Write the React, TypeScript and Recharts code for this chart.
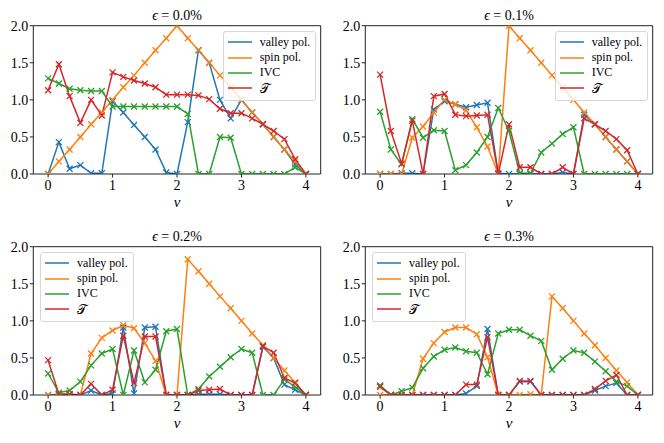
import React from "react";
import { LineChart, Line, XAxis, YAxis, Legend, ReferenceLine } from "recharts";

// filling nu = 0 .. 4 in steps of 1/6
const NU = [
  0, 1 / 6, 2 / 6, 3 / 6, 4 / 6, 5 / 6, 1, 7 / 6, 8 / 6, 9 / 6, 10 / 6, 11 / 6, 2,
  13 / 6, 14 / 6, 15 / 6, 16 / 6, 17 / 6, 3, 19 / 6, 20 / 6, 21 / 6, 22 / 6, 23 / 6, 4,
];

const X_TICKS = [0, 1, 2, 3, 4];
const Y_TICKS = [0, 0.5, 1, 1.5, 2];
const STRAINS = ["0.0", "0.1", "0.2", "0.3"];

// eps = 0.0%
const valley0 = [0, 0.43, 0.07, 0.12, 0.01, 0.01, 0.98, 0.83, 0.66, 0.5, 0.33, 0.02, 0, 0.7, 1.67, 1.5, 1.0, 0.75, 1.0, 0.83, 0.67, 0.5, 0.33, 0.13, 0];
const spin0 = [0, 0.17, 0.33, 0.5, 0.67, 0.83, 1.0, 1.17, 1.33, 1.5, 1.67, 1.83, 2.0, 1.83, 1.67, 1.5, 1.33, 1.17, 1.0, 0.83, 0.67, 0.5, 0.33, 0.17, 0];
const ivc0 = [1.29, 1.22, 1.15, 1.13, 1.12, 1.12, 0.91, 0.91, 0.91, 0.91, 0.91, 0.91, 0.91, 0.81, 0, 0, 0.5, 0.49, 0, 0, 0, 0, 0, 0.09, 0];
const tau0 = [1.13, 1.48, 1.05, 0.69, 1.0, 0.79, 1.37, 1.31, 1.26, 1.22, 1.17, 1.07, 1.07, 1.07, 1.06, 1.01, 0.88, 0.82, 0.82, 0.75, 0.67, 0.58, 0.47, 0.2, 0];

// eps = 0.1%
const valley1 = [0, 0, 0.01, 0.01, 0, 0.87, 0.98, 0.94, 0.9, 0.93, 0.96, 0.01, 0, 0, 0, 0, 0, 0.02, 0, 0.8, 0.67, 0.5, 0.33, 0.17, 0];
const spin1 = [0, 0, 0, 0.49, 0.64, 0.83, 1.0, 0.94, 0.86, 0.63, 0.37, 0, 2.0, 1.83, 1.67, 1.5, 1.33, 1.17, 1.0, 0.83, 0.67, 0.5, 0.33, 0.17, 0];
const ivc1 = [0.84, 0.33, 0.13, 0.74, 0.49, 0.59, 0.58, 0.05, 0.12, 0.29, 0.5, 0.89, 0.58, 0.01, 0.01, 0.29, 0.41, 0.54, 0.63, 0, 0, 0, 0, 0, 0];
const tau1 = [1.34, 0.58, 0.14, 0.72, 0, 1.05, 1.08, 0.8, 0.78, 0.79, 0.8, 0, 0.67, 0.09, 0.09, 0, 0, 0.09, 0, 0.75, 0.67, 0.58, 0.47, 0.32, 0];

// eps = 0.2%
const valley2 = [0, 0.01, 0.01, 0, 0.06, 0, 0.02, 0.91, 0.02, 0.91, 0.92, 0, 0, 0, 0.01, 0.01, 0.01, 0, 0, 0, 0.65, 0.5, 0.14, 0.07, 0];
const spin2 = [0, 0, 0, 0, 0.56, 0.77, 0.87, 0.94, 0.9, 0.7, 0.46, 0, 0, 1.83, 1.67, 1.5, 1.33, 1.17, 1.0, 0.83, 0.67, 0.5, 0.33, 0.17, 0];
const ivc2 = [0.29, 0.03, 0.06, 0.18, 0.4, 0.56, 0.62, 0, 0.6, 0.17, 0.34, 0.86, 0.89, 0, 0.08, 0.25, 0.38, 0.51, 0.62, 0.57, 0, 0, 0.21, 0.11, 0];
const tau2 = [0.47, 0.01, 0.01, 0, 0.15, 0, 0.07, 0.8, 0.16, 0.79, 0.79, 0, 0, 0, 0.06, 0.07, 0.08, 0, 0, 0, 0.66, 0.57, 0.23, 0.16, 0];

// eps = 0.3%
const valley3 = [0.12, 0, 0, 0, 0, 0, 0, 0, 0.02, 0.12, 0.89, 0, 0, 0.18, 0.18, 0, 0, 0, 0, 0, 0.06, 0.12, 0.16, 0, 0];
const spin3 = [0, 0, 0, 0, 0.49, 0.7, 0.85, 0.91, 0.91, 0.82, 0.51, 0, 0, 0, 0.01, 0, 1.33, 1.17, 1.0, 0.83, 0.67, 0.5, 0.33, 0.17, 0];
const ivc3 = [0.13, 0, 0.05, 0.1, 0.36, 0.52, 0.61, 0.64, 0.59, 0.57, 0.28, 0.83, 0.88, 0.88, 0.8, 0.73, 0.34, 0.49, 0.6, 0.57, 0.45, 0.32, 0.18, 0.12, 0];
const tau3 = [0.11, 0, 0, 0, 0, 0, 0, 0, 0.14, 0.14, 0.78, 0, 0, 0.19, 0.19, 0, 0, 0, 0, 0, 0.08, 0.19, 0.27, 0, 0];

const PANELS = [
  { valley: valley0, spin: spin0, ivc: ivc0, tau: tau0, legendLeft: 222.7 },
  { valley: valley1, spin: spin1, ivc: ivc1, tau: tau1, legendLeft: 222.7 },
  { valley: valley2, spin: spin2, ivc: ivc2, tau: tau2, legendLeft: 40 },
  { valley: valley3, spin: spin3, ivc: ivc3, tau: tau3, legendLeft: 40 },
];

const SERIES = [
  { key: "valley", label: "valley pol.", color: "#1f77b4" },
  { key: "spin", label: "spin pol.", color: "#ff7f0e" },
  { key: "ivc", label: "IVC", color: "#2ca02c" },
  { key: "tau", label: "𝒯", color: "#d62728" },
];

const serif = "Liberation Serif";
const frame = "#222";
const W = 332;
const H = 221;
const X_DOMAIN = [-0.23, 4.23];

const crossDot = (color: string) => (props: any) => {
  const { cx, cy, index } = props;
  if (cx == null || cy == null) return <g key={index} />;
  const r = 3;
  return (
    <path
      key={index}
      d={`M${cx - r},${cy - r}L${cx + r},${cy + r}M${cx - r},${cy + r}L${cx + r},${cy - r}`}
      stroke={color}
      strokeWidth={1.3}
      fill="none"
    />
  );
};

function LegendBox() {
  return (
    <div
      style={{
        background: "rgba(255,255,255,0.8)",
        border: "1px solid #d6d6d6",
        borderRadius: 3,
        padding: "3px 5px 4px 4px",
        fontFamily: serif,
        fontSize: 12,
        whiteSpace: "nowrap",
      }}
    >
      {SERIES.map((s) => (
        <div key={s.key} style={{ display: "flex", alignItems: "center", height: 15.4 }}>
          <svg width={24} height={4} style={{ flex: "none" }}>
            <line x1={0} y1={2} x2={24} y2={2} stroke={s.color} strokeWidth={1.5} />
          </svg>
          <span style={{ marginLeft: 8, fontSize: s.key === "tau" ? 13 : 12, lineHeight: "15px" }}>{s.label}</span>
        </div>
      ))}
    </div>
  );
}

function Panel({ idx }: { idx: number }) {
  const p = PANELS[idx];
  const data = NU.map((nu, i) => ({
    nu,
    valley: p.valley[i],
    spin: p.spin[i],
    ivc: p.ivc[i],
    tau: p.tau[i],
  }));
  const tick = { fill: "#000", fontSize: 14, fontFamily: serif };

  return (
    <div style={{ position: "absolute", left: (idx % 2) * W, top: Math.floor(idx / 2) * H, width: W, height: H }}>
      <div
        style={{
          position: "absolute",
          left: 33.3,
          width: 287.4,
          top: 8,
          textAlign: "center",
          fontFamily: serif,
          fontSize: 14,
          fontWeight: 400,
          lineHeight: "16px",
        }}
      >
        <i>ϵ</i> = {STRAINS[idx]}%
      </div>
      <LineChart width={W} height={H} data={data} margin={{ top: 25.7, right: 11.3, bottom: 0, left: 0 }}>
        <XAxis
          dataKey="nu"
          type="number"
          domain={X_DOMAIN}
          ticks={X_TICKS}
          allowDataOverflow
          tick={tick}
          tickSize={3.5}
          tickMargin={3}
          height={47}
          stroke={frame}
          tickLine={{ stroke: frame }}
          label={{ value: "ν", position: "insideBottom", offset: 14, fontFamily: serif, fontSize: 15, fontStyle: "italic", fill: "#000" }}
        />
        <YAxis
          type="number"
          domain={[0, 2]}
          ticks={Y_TICKS}
          allowDataOverflow
          tick={tick}
          tickFormatter={(v: number) => v.toFixed(1)}
          tickSize={3.5}
          tickMargin={1.5}
          width={33.3}
          stroke={frame}
          tickLine={{ stroke: frame }}
        />
        <ReferenceLine y={2} stroke={frame} strokeWidth={1} ifOverflow="visible" />
        <ReferenceLine x={X_DOMAIN[1]} stroke={frame} strokeWidth={1} ifOverflow="visible" />
        {SERIES.map((s) => (
          <Line
            key={s.key}
            type="linear"
            dataKey={s.key}
            stroke={s.color}
            strokeWidth={1.5}
            dot={crossDot(s.color)}
            activeDot={false}
            isAnimationActive={false}
          />
        ))}
        <Legend
          layout="vertical"
          align="center"
          verticalAlign="middle"
          content={() => <LegendBox />}
          wrapperStyle={{ left: p.legendLeft, top: 30.5, width: "auto", height: "auto" }}
        />
      </LineChart>
    </div>
  );
}

export default function App() {
  return (
    <div style={{ position: "absolute", left: 0, top: 0, width: 664, height: 443, background: "#fff" }}>
      {[0, 1, 2, 3].map((i) => (
        <Panel key={i} idx={i} />
      ))}
    </div>
  );
}
